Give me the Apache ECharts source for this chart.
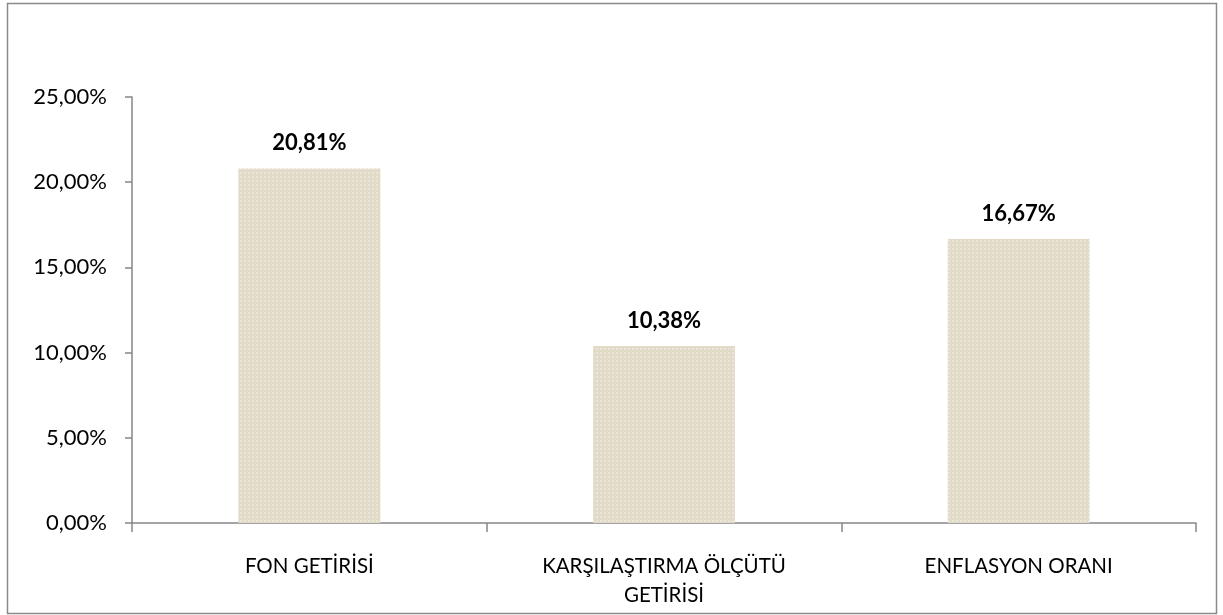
<!DOCTYPE html>
<html>
<head>
<meta charset="utf-8">
<title>Getiri Karşılaştırması</title>
<script src="https://cdn.jsdelivr.net/npm/echarts@6/dist/echarts.min.js"></script>
<style>
  html, body { margin: 0; padding: 0; background: #fff; }
  #main { width: 1223px; height: 615px; }
</style>
</head>
<body>
<div id="main"></div>
<script type="text/javascript">
    var categories = ['FON GETİRİSİ', 'KARŞILAŞTIRMA ÖLÇÜTÜ\nGETİRİSİ', 'ENFLASYON ORANI'];
    var values = [20.81, 10.38, 16.67];

    function pct(v) {
        return v.toFixed(2).replace('.', ',') + '%';
    }

    var myChart = echarts.init(document.getElementById('main'));

    var option = {
        backgroundColor: '#fff',
        textStyle: { fontFamily: 'Lato, sans-serif' },
        graphic: [{
            type: 'rect',
            shape: { x: 7.5, y: 3.5, width: 1209, height: 610 },
            style: { fill: 'none', stroke: '#8a8a8a', lineWidth: 1.5 },
            silent: true
        }],
        grid: { left: 132, right: 27, top: 97, bottom: 92 },
        xAxis: {
            type: 'category',
            data: categories,
            axisLine: { lineStyle: { color: '#868686', width: 1.5 } },
            axisTick: { show: true, length: 9, lineStyle: { color: '#868686', width: 1.5 } },
            axisLabel: { color: '#000', fontSize: 20.5, margin: 29, lineHeight: 29 }
        },
        yAxis: {
            type: 'value',
            min: 0,
            max: 25,
            interval: 5,
            splitLine: { show: false },
            axisLine: { show: true, lineStyle: { color: '#868686', width: 1.5 } },
            axisTick: { show: true, length: 7, lineStyle: { color: '#868686', width: 1.5 } },
            axisLabel: { color: '#000', fontSize: 22, margin: 25, formatter: pct }
        },
        series: [{
            type: 'bar',
            data: values,
            barWidth: '40%',
            itemStyle: {
                color: '#e0dac6',
                decal: {
                    symbol: 'rect',
                    symbolSize: 0.7,
                    color: 'rgba(255,255,255,0.6)',
                    dashArrayX: [2, 2],
                    dashArrayY: [2, 2],
                    rotation: 0
                }
            },
            label: {
                show: true,
                position: 'top',
                distance: 14,
                color: '#000',
                fontWeight: 'bold',
                fontSize: 22,
                formatter: function (p) { return pct(p.value); }
            }
        }]
    };

    myChart.setOption(option);
</script>
</body>
</html>
